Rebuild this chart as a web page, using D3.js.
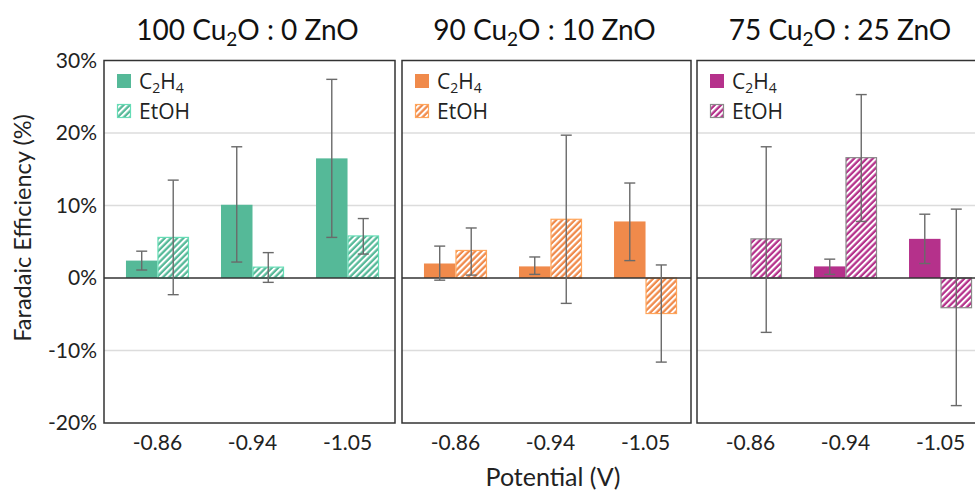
<!DOCTYPE html>
<html><head><meta charset="utf-8">
<script src="https://cdn.jsdelivr.net/npm/d3@7"></script>
<style>html,body{margin:0;padding:0;background:#fff;}svg{display:block;}</style>
</head><body>
<svg id="chart" width="975" height="492"></svg>
<script>
// ---- data ----
const potentials = ["-0.86", "-0.94", "-1.05"];
const titleLead = ["100 Cu", "90 Cu", "75 Cu"];
const titleTail = ["O : 0 ZnO", "O : 10 ZnO", "O : 25 ZnO"];
const seriesNames = ["C2H4", "EtOH"];
const colors = ["#55b998", "#f08a4b", "#b5318b"];
const c2h4Val = [[2.4, 10.1, 16.5], [2.0, 1.6, 7.8], [0.0, 1.6, 5.4]];
const c2h4Hi  = [[3.7, 18.1, 27.4], [4.4, 2.9, 13.1], [0.0, 2.6, 8.8]];
const c2h4Lo  = [[1.1, 2.2, 5.6],   [-0.3, 0.5, 2.4], [0.0, 0.5, 2.0]];
const etohVal = [[5.6, 1.5, 5.8],   [3.8, 8.1, -4.9], [5.4, 16.6, -4.1]];
const etohHi  = [[13.5, 3.5, 8.2],  [6.9, 19.7, 1.8], [18.1, 25.3, 9.5]];
const etohLo  = [[-2.3, -0.6, 3.3], [0.4, -3.5, -11.6], [-7.5, 7.8, -17.6]];
const yTicks = [30, 20, 10, 0, -10, -20];

// ---- layout ----
const svg = d3.select("#chart");
const yTop = 60.5, yBottom = 423;
const panelLeft = [104, 402, 697];
const panelW = [291, 289, 290];
const y = d3.scaleLinear().domain([-20, 30]).range([yBottom, yTop]);
const defs = svg.append("defs");
const font = "Lato, 'Open Sans', sans-serif";
const legendFont = "'Open Sans', 'Noto Sans', sans-serif";

colors.forEach((c, i) => {
  const p = defs.append("pattern").attr("id", "hatch" + i)
    .attr("patternUnits", "userSpaceOnUse").attr("width", 4.4).attr("height", 10)
    .attr("patternTransform", "rotate(45)");
  p.append("rect").attr("width", 4.4).attr("height", 10).attr("fill", c);
  p.append("rect").attr("width", 2.1).attr("height", 10).attr("fill", "#fff");
});

// y axis
const yAxis = d3.axisLeft(y).tickValues(yTicks).tickSize(0).tickPadding(7).tickFormat(d => d + "%");
const yg = svg.append("g").attr("transform", `translate(${panelLeft[0]},0)`).call(yAxis);
yg.select(".domain").remove();
yg.selectAll("text").attr("font-family", font).attr("font-size", 21).attr("fill", "#222");

svg.append("text").attr("transform", `translate(31,228) rotate(-90)`)
  .attr("text-anchor", "middle").attr("font-family", font).attr("font-size", 23.5).attr("fill", "#222")
  .text("Faradaic Efficiency (%)");

panelLeft.forEach((L, pi) => {
  const W = panelW[pi];
  const g = svg.append("g");
  const x = d3.scaleBand().domain(potentials).range([L + 6, L + 6 + 285]).paddingInner(0.337).paddingOuter(0.168);
  const xs = d3.scaleBand().domain(seriesNames).range([0, x.bandwidth()]);
  // gridlines
  g.selectAll(".grid").data(yTicks.filter(t => t !== 0 && t !== 30 && t !== -20)).join("line")
    .attr("x1", L).attr("x2", L + W).attr("y1", d => y(d)).attr("y2", d => y(d))
    .attr("stroke", "#dcdcdc").attr("stroke-width", 1.3);
  const rows = potentials.map((p, k) => ({p, k}));
  // C2H4
  g.selectAll(".c").data(rows).join("rect")
    .attr("x", d => x(d.p) + xs("C2H4")).attr("width", xs.bandwidth())
    .attr("y", d => y(Math.max(0, c2h4Val[pi][d.k]))).attr("height", d => Math.abs(y(c2h4Val[pi][d.k]) - y(0)))
    .attr("fill", colors[pi]);
  // EtOH
  g.selectAll(".e").data(rows).join("rect")
    .attr("x", d => x(d.p) + xs("EtOH") + 0.5).attr("width", xs.bandwidth() - 1)
    .attr("y", d => y(Math.max(0, etohVal[pi][d.k]))).attr("height", d => Math.abs(y(etohVal[pi][d.k]) - y(0)))
    .attr("fill", `url(#hatch${pi})`)
    .attr("stroke", pi === 2 ? "#8a8a8a" : d3.color(colors[pi]).brighter(0.5)).attr("stroke-width", 1.2);
  // zero line
  g.append("line").attr("x1", L).attr("x2", L + W).attr("y1", y(0)).attr("y2", y(0))
    .attr("stroke", "#333").attr("stroke-width", 1.5);
  // error bars
  const errs = [];
  rows.forEach(d => {
    if (c2h4Hi[pi][d.k] !== c2h4Lo[pi][d.k])
      errs.push({cx: x(d.p) + xs("C2H4") + xs.bandwidth() / 2, hi: c2h4Hi[pi][d.k], lo: c2h4Lo[pi][d.k]});
    errs.push({cx: x(d.p) + xs("EtOH") + xs.bandwidth() / 2, hi: etohHi[pi][d.k], lo: etohLo[pi][d.k]});
  });
  const eg = g.selectAll(".err").data(errs).join("g").attr("stroke", "#6a6a6a").attr("stroke-width", 1.4);
  eg.append("line").attr("x1", d => d.cx).attr("x2", d => d.cx).attr("y1", d => y(d.hi)).attr("y2", d => y(d.lo));
  eg.append("line").attr("x1", d => d.cx - 5.5).attr("x2", d => d.cx + 5.5).attr("y1", d => y(d.hi)).attr("y2", d => y(d.hi));
  eg.append("line").attr("x1", d => d.cx - 5.5).attr("x2", d => d.cx + 5.5).attr("y1", d => y(d.lo)).attr("y2", d => y(d.lo));
  // frame
  g.append("rect").attr("x", L).attr("y", yTop).attr("width", W).attr("height", yBottom - yTop)
    .attr("fill", "none").attr("stroke", "#333").attr("stroke-width", 1.5);
  // x axis labels
  const xa = d3.axisBottom(x).tickSize(0).tickPadding(12);
  const xg = g.append("g").attr("transform", `translate(0,${yBottom})`).call(xa);
  xg.select(".domain").remove();
  xg.selectAll("text").attr("font-family", font).attr("font-size", 21).attr("fill", "#222");
  // title
  const t = svg.append("text").attr("x", L + W / 2 - 2).attr("y", 40).attr("text-anchor", "middle")
    .attr("font-family", font).attr("font-size", 28).attr("fill", "#111");
  t.append("tspan").text(titleLead[pi]);
  t.append("tspan").attr("font-size", 19).attr("dy", 6).text("2");
  t.append("tspan").attr("dy", -6).text(titleTail[pi]);
  // legend
  const lx = L + 13, ly = [74, 104];
  g.append("rect").attr("x", lx).attr("y", ly[0]).attr("width", 14).attr("height", 14).attr("fill", colors[pi]);
  g.append("rect").attr("x", lx + 0.5).attr("y", ly[1] + 0.5).attr("width", 13).attr("height", 13)
    .attr("fill", `url(#hatch${pi})`).attr("stroke", pi === 2 ? "#8a8a8a" : d3.color(colors[pi]).brighter(0.5)).attr("stroke-width", 1.2);
  const l1 = g.append("text").attr("x", lx + 22).attr("y", ly[0] + 15).attr("font-family", legendFont)
    .attr("font-size", 21).attr("fill", "#222");
  l1.append("tspan").text("C");
  l1.append("tspan").attr("font-size", 14).attr("dy", 4).text("2");
  l1.append("tspan").attr("dy", -4).text("H");
  l1.append("tspan").attr("font-size", 14).attr("dy", 4).text("4");
  g.append("text").attr("x", lx + 22).attr("y", ly[1] + 15).attr("font-family", legendFont)
    .attr("font-size", 21).attr("fill", "#222").text("EtOH");
});

svg.append("text").attr("x", 553).attr("y", 486).attr("text-anchor", "middle")
  .attr("font-family", font).attr("font-size", 25).attr("fill", "#222").text("Potential (V)");
</script>
</body></html>
